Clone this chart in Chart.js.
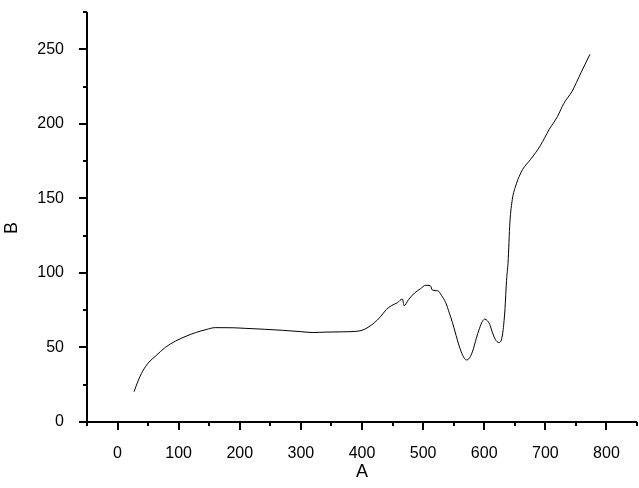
<!DOCTYPE html>
<html>
<head>
<meta charset="utf-8">
<script src="https://cdn.jsdelivr.net/npm/chart.js@4.4.0/dist/chart.umd.min.js"></script>
<style>
  html, body { margin: 0; padding: 0; background: #fff; }
  #wrap { width: 639px; height: 488px; }
</style>
</head>
<body>
<div id="wrap"><canvas id="chart" width="639" height="488"></canvas></div>
<script>
// values
const xValues = [27, 33, 41, 50, 63, 78, 95, 112, 128, 145, 160, 190, 210, 240, 270, 300, 320, 340, 370, 390,
  400, 410, 420, 430, 440, 448, 458, 466, 469, 476, 486, 496, 504, 512, 515, 524, 530, 537, 543, 548,
  554, 559, 565, 571, 576, 581, 587, 592, 597, 601, 605, 609, 613, 618, 624, 628, 631, 634, 636.5, 639,
  642, 646, 651.5, 657, 663, 676, 692, 706, 720, 730, 744, 758, 773];
const yValues = [20.3, 27, 34, 39.5, 44.5, 50, 54.3, 57.5, 60, 62, 63.3, 63.2, 62.8, 62.2, 61.5, 60.6, 60, 60.3, 60.5, 60.8,
  61.5, 63.5, 66.5, 70.5, 75.5, 78, 80, 82.5, 78, 82, 86.5, 89.5, 91.7, 91.3, 88.5, 88, 85, 80, 73, 66.7,
  58, 51, 44.5, 41.6, 43, 47.5, 56, 62.5, 67.5, 69, 68, 65.5, 60.5, 55.5, 53.3, 55, 62, 76, 95, 107,
  133.7, 149.4, 158.3, 164.5, 169.5, 176.2, 185.5, 196, 205, 213.5, 222, 234, 246.6];

const xMin = -50, xMax = 850, xStep = 50, xLabelStep = 100;
const yMin = 0, yMax = 275, yStep = 25, yLabelStep = 50;
const xTitle = 'A';
const yTitle = 'B';

const points = xValues.map((x, i) => ({ x: x, y: yValues[i] }));

const font = 'Arial, "Liberation Sans", sans-serif';

// origin style axes: thick lines, outward major / minor ticks
const axesPlugin = {
  id: 'originAxes',
  afterDraw(chart) {
    const { ctx, chartArea: area, scales } = chart;
    const sx = scales.x, sy = scales.y;
    ctx.save();
    ctx.strokeStyle = '#000';
    ctx.lineWidth = 2;
    ctx.beginPath();
    ctx.moveTo(area.left, area.top);
    ctx.lineTo(area.left, area.bottom);
    ctx.lineTo(area.right, area.bottom);
    sx.ticks.forEach(t => {
      const px = Math.round(sx.getPixelForValue(t.value));
      const len = t.value % xLabelStep === 0 ? 8 : 4;
      ctx.moveTo(px, area.bottom);
      ctx.lineTo(px, area.bottom + len);
    });
    sy.ticks.forEach(t => {
      const py = Math.round(sy.getPixelForValue(t.value));
      const len = t.value % yLabelStep === 0 ? 8 : 4;
      ctx.moveTo(area.left, py);
      ctx.lineTo(area.left - len, py);
    });
    ctx.stroke();

    // y title sits a bit below the axis middle in the original
    ctx.fillStyle = '#000';
    ctx.font = '18px ' + font;
    ctx.textAlign = 'center';
    ctx.textBaseline = 'middle';
    ctx.translate(12, 228);
    ctx.rotate(-Math.PI / 2);
    ctx.fillText(yTitle, 0, 0);
    ctx.restore();
  }
};

new Chart(document.getElementById('chart'), {
  type: 'scatter',
  data: {
    datasets: [{
      data: points,
      showLine: true,
      borderColor: '#000',
      borderWidth: 1,
      pointRadius: 0,
      cubicInterpolationMode: 'monotone',
      fill: false
    }]
  },
  options: {
    responsive: false,
    animation: false,
    layout: { padding: { top: 12, right: 2, left: 0, bottom: 0 } },
    plugins: { legend: { display: false }, tooltip: { enabled: false } },
    scales: {
      x: {
        type: 'linear',
        min: xMin,
        max: xMax,
        afterFit(scale) {
          scale.height = 66;
          scale.paddingLeft = 0;
          scale.paddingRight = 0;
        },
        grid: { display: false },
        border: { display: false },
        ticks: {
          stepSize: xStep,
          autoSkip: false,
          maxRotation: 0,
          padding: 14,
          color: '#000',
          font: { family: font, size: 16 },
          callback: v => (v % xLabelStep === 0 ? String(v) : '')
        },
        title: {
          display: true,
          text: xTitle,
          color: '#000',
          font: { family: font, size: 18 },
          padding: { top: 5, bottom: 5 }
        }
      },
      y: {
        type: 'linear',
        min: yMin,
        max: yMax,
        afterFit(scale) {
          scale.width = 87;
          scale.paddingTop = 0;
          scale.paddingBottom = 0;
        },
        grid: { display: false },
        border: { display: false },
        ticks: {
          stepSize: yStep,
          autoSkip: false,
          padding: 15,
          color: '#000',
          font: { family: font, size: 16 },
          callback: v => (v % yLabelStep === 0 ? String(v) : '')
        },
        title: { display: false }
      }
    }
  },
  plugins: [axesPlugin]
});
</script>
</body>
</html>
